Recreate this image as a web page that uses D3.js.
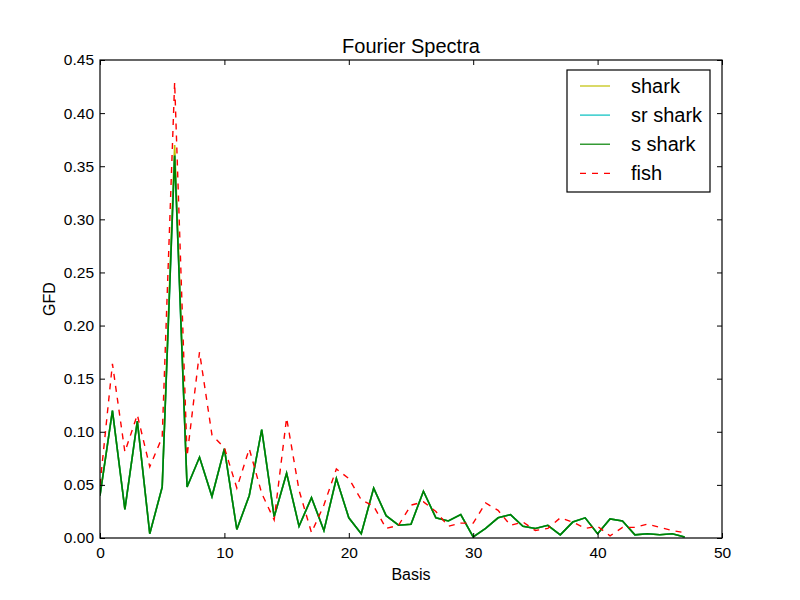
<html>
<head>
<script src="https://d3js.org/d3.v7.min.js"></script>
<style>
  body { margin: 0; background: #fff; }
  text { font-family: "Liberation Sans", Arial, sans-serif; }
</style>
</head>
<body>
<svg id="chart" width="800" height="600"></svg>
<script>
// values
var sShark = [0.040, 0.120, 0.027, 0.110, 0.004, 0.048, 0.360, 0.048, 0.076, 0.039,
              0.084, 0.008, 0.040, 0.102, 0.020, 0.061, 0.011, 0.038, 0.007, 0.056,
              0.019, 0.004, 0.047, 0.021, 0.012, 0.013, 0.044, 0.019, 0.016, 0.022,
              0.001, 0.009, 0.019, 0.022, 0.011, 0.009, 0.012, 0.003, 0.015, 0.019,
              0.004, 0.018, 0.016, 0.003, 0.004, 0.003, 0.004, 0.001];
var shark = [0.040, 0.120, 0.027, 0.110, 0.004, 0.048, 0.370, 0.048, 0.076, 0.039,
             0.084, 0.008, 0.040, 0.102, 0.020, 0.061, 0.011, 0.038, 0.007, 0.056,
             0.019, 0.004, 0.047, 0.021, 0.012, 0.013, 0.044, 0.019, 0.016, 0.022,
             0.001, 0.009, 0.019, 0.022, 0.011, 0.009, 0.012, 0.003, 0.015, 0.019,
             0.004, 0.018, 0.016, 0.003, 0.004, 0.003, 0.004, 0.001];
var srShark = sShark.slice();
var fish = [0.050, 0.164, 0.081, 0.116, 0.067, 0.095, 0.429, 0.077, 0.175, 0.097,
            0.085, 0.047, 0.084, 0.042, 0.017, 0.113, 0.045, 0.005, 0.031, 0.065,
            0.056, 0.036, 0.030, 0.009, 0.012, 0.031, 0.034, 0.025, 0.011, 0.014,
            0.014, 0.033, 0.026, 0.012, 0.015, 0.007, 0.009, 0.019, 0.015, 0.009,
            0.011, 0.002, 0.010, 0.010, 0.013, 0.010, 0.007, 0.005];

var seriesNames = ["shark", "sr shark", "s shark", "fish"];
var seriesColors = ["#bfbf00", "#00bfbf", "#008000", "#ff0000"];
var seriesData = [shark, srShark, sShark, fish];

var xTicks = [0, 10, 20, 30, 40, 50];
var yTicks = [0, 0.05, 0.10, 0.15, 0.20, 0.25, 0.30, 0.35, 0.40, 0.45];

// plot box (note: "top" is taken by window.top, so other names)
var plotL = 100, plotR = 722, plotT = 60, plotB = 538;
var svg = d3.select("#chart");

var x = d3.scaleLinear().domain([0, 50]).range([plotL, plotR]);
var y = d3.scaleLinear().domain([0, 0.45]).range([plotB, plotT]);

var line = d3.line()
  .x(function(d, i) { return x(i); })
  .y(function(d) { return y(d); });

svg.append("defs").append("clipPath").attr("id", "clip")
  .append("rect").attr("x", plotL).attr("y", plotT)
  .attr("width", plotR - plotL).attr("height", plotB - plotT);

var plot = svg.append("g").attr("clip-path", "url(#clip)");
seriesData.forEach(function(data, k) {
  plot.append("path")
    .attr("d", line(data))
    .attr("fill", "none")
    .attr("stroke", seriesColors[k])
    .attr("stroke-width", k == 3 ? 1.4 : 1.6)
    .attr("stroke-dasharray", k == 3 ? "6,6" : null);
});

// axes, ticks pointing inwards on all four sides
function axis(gen, tx, ty, showLabels) {
  var g = svg.append("g").attr("transform", "translate(" + tx + "," + ty + ")").call(gen);
  g.select(".domain").remove();
  g.selectAll("line").attr("stroke", "#000");
  g.selectAll("text").attr("font-size", 15.5).attr("fill", "#000");
  if (!showLabels) g.selectAll("text").remove();
  return g;
}
axis(d3.axisBottom(x).tickValues(xTicks).tickSize(-5).tickPadding(9).tickFormat(d3.format("d")), 0, plotB, true);
axis(d3.axisTop(x).tickValues(xTicks).tickSize(-5), 0, plotT, false);
axis(d3.axisLeft(y).tickValues(yTicks).tickSize(-5).tickPadding(6).tickFormat(d3.format(".2f")), plotL, 0, true);
axis(d3.axisRight(y).tickValues(yTicks).tickSize(-5), plotR, 0, false);

svg.append("rect").attr("x", plotL).attr("y", plotT)
  .attr("width", plotR - plotL).attr("height", plotB - plotT)
  .attr("fill", "none").attr("stroke", "#000").attr("stroke-width", 1.2);

svg.append("text").attr("x", (plotL + plotR) / 2).attr("y", 53)
  .attr("text-anchor", "middle").attr("font-size", 20).text("Fourier Spectra");
svg.append("text").attr("x", (plotL + plotR) / 2).attr("y", 580)
  .attr("text-anchor", "middle").attr("font-size", 16).text("Basis");
svg.append("text").attr("transform", "translate(55," + (plotT + plotB) / 2 + ") rotate(-90)")
  .attr("text-anchor", "middle").attr("font-size", 16).text("GFD");

// legend
var lg = svg.append("g").attr("transform", "translate(567,70)");
lg.append("rect").attr("width", 143).attr("height", 122)
  .attr("fill", "#fff").attr("stroke", "#000").attr("stroke-width", 1.2);
seriesNames.forEach(function(name, k) {
  var ry = 16 + k * 29.1;
  lg.append("line").attr("x1", 13).attr("x2", 43).attr("y1", ry).attr("y2", ry)
    .attr("stroke", seriesColors[k]).attr("stroke-width", 1.2)
    .attr("stroke-dasharray", k == 3 ? "6,6" : null);
  lg.append("text").attr("x", 64).attr("y", ry + 7).attr("font-size", 20).text(name);
});
</script>
</body>
</html>
